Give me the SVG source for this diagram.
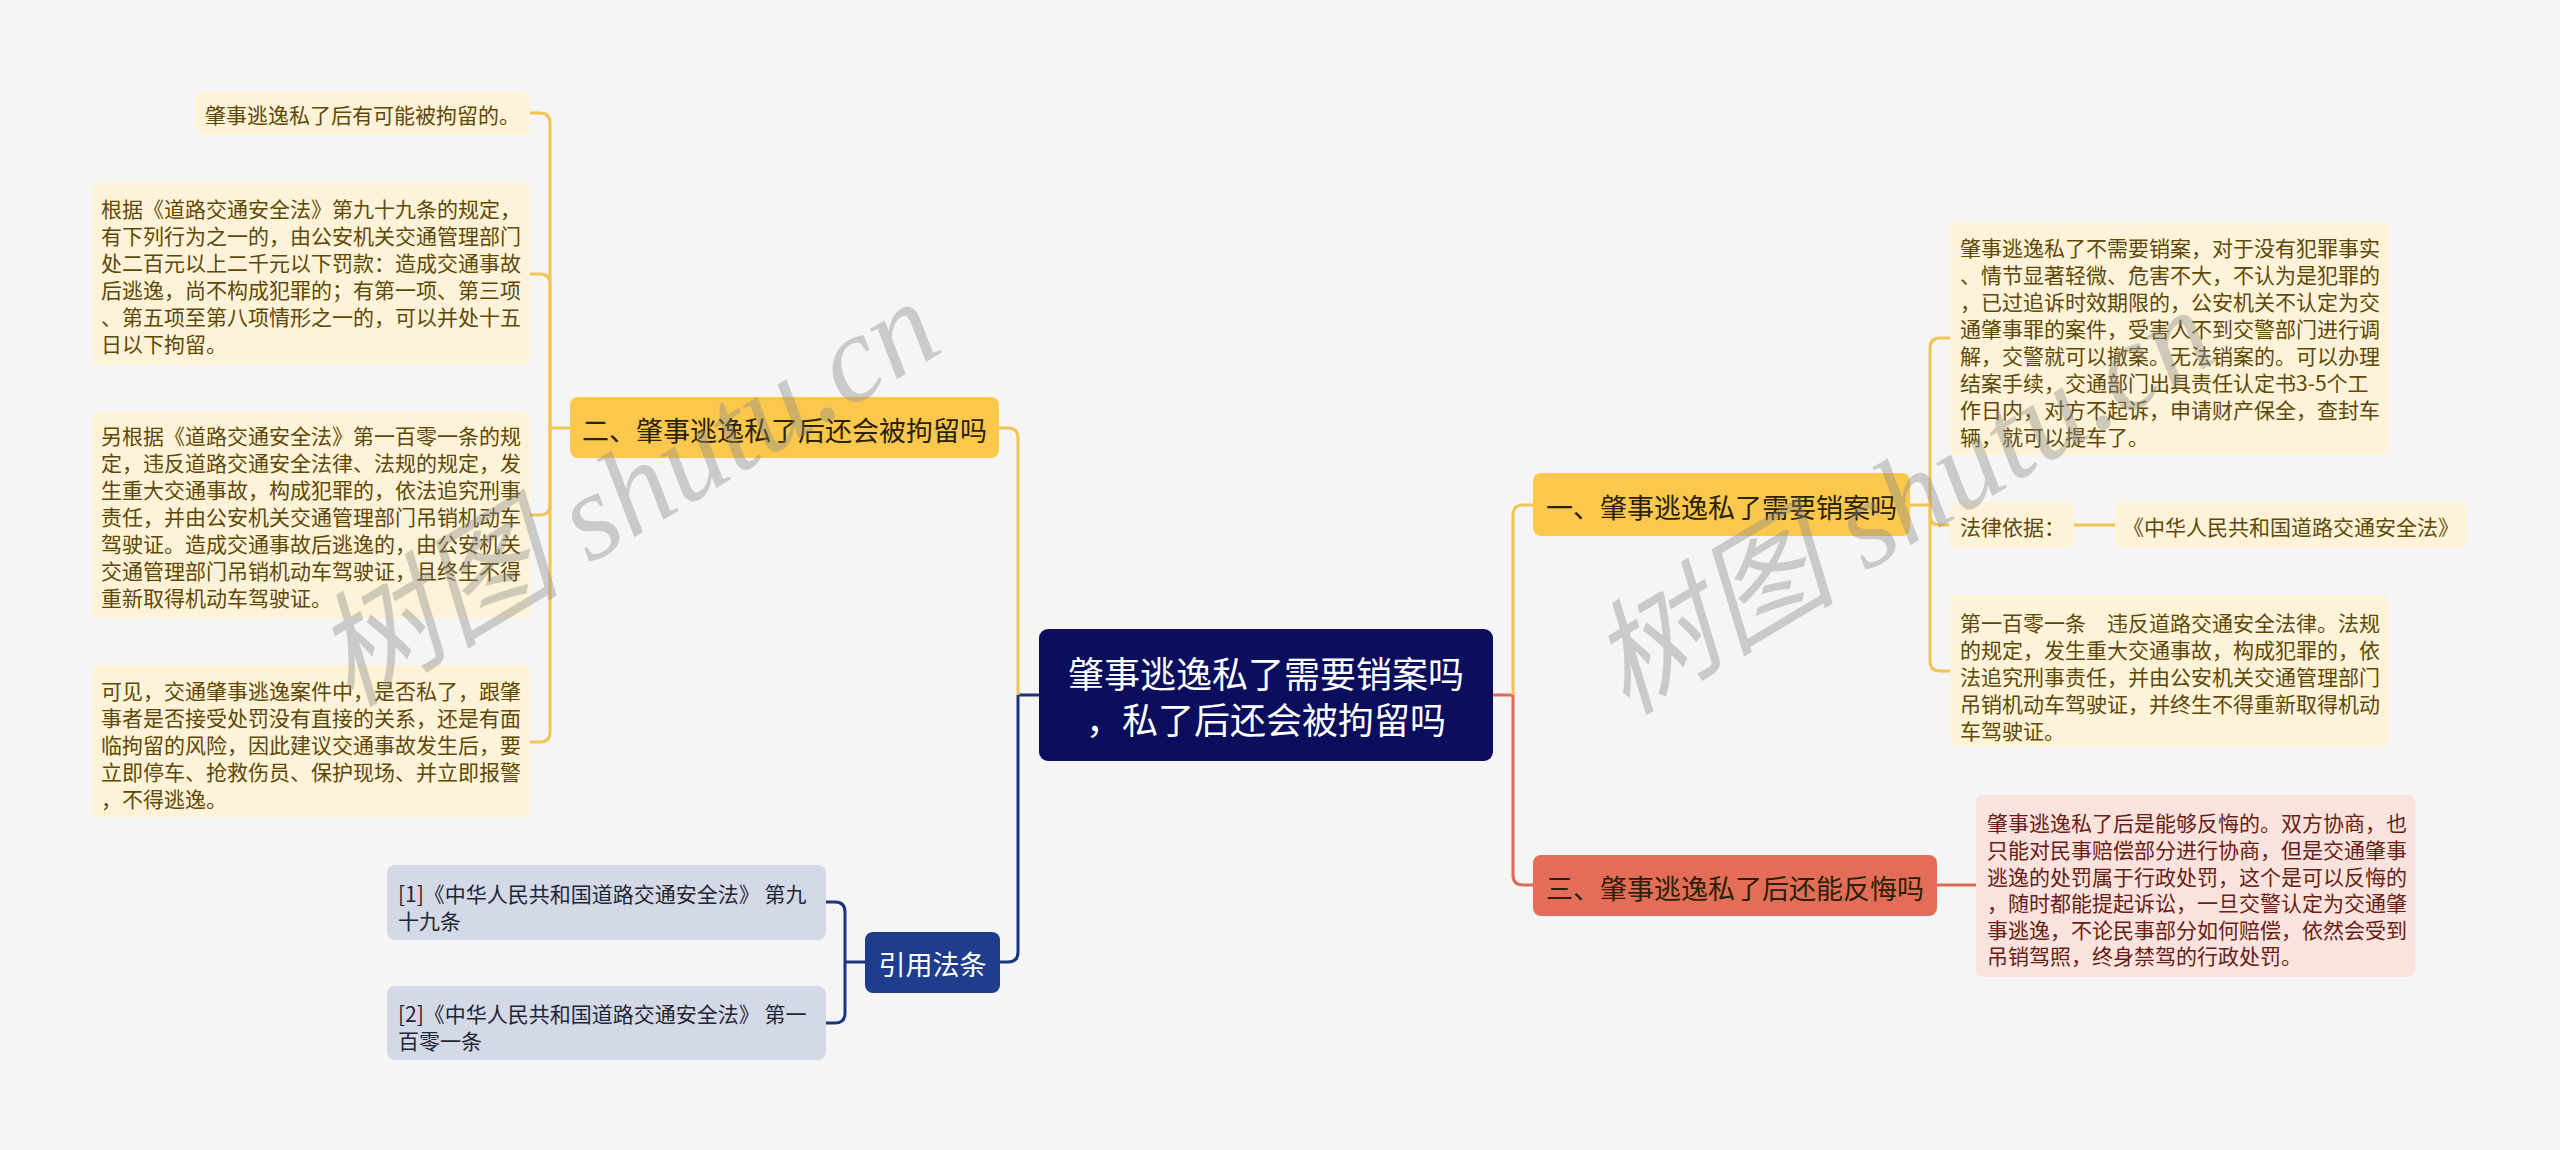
<svg xmlns="http://www.w3.org/2000/svg" width="2560" height="1150" viewBox="0 0 2560 1150">
<style>
text{font-family:"Noto Sans CJK SC","Noto Sans",sans-serif;dominant-baseline:central}
.c{fill:#fef3d8}
.ct{fill:#5f4806;font-size:21px}
.y{fill:#fbc84e}
.yt{fill:#2b2104;font-size:27px}
.ln{fill:none;stroke-width:3}
.ly{stroke:#f2c453}
.lr{stroke:#dc6a55}
.lb{stroke:#1c347e}
.pt{fill:#6a1d12;font-size:21px}
.rt{fill:#1f2533;font-size:21px}
.wm{font-family:"Liberation Serif","Noto Sans CJK SC",serif;font-style:italic;font-size:124px;fill:#8a8a8a;fill-opacity:0.4;dominant-baseline:auto}
</style>
<rect width="2560" height="1150" fill="#f5f5f5"/>
<g id="connectors">
<path class="ln lb" d="M1039,695 H1018"/>
<path class="ln ly" d="M1018,695 V438 Q1018,428 1008,428 H999"/>
<path class="ln lb" d="M1018,695 V952 Q1018,962 1008,962 H1000"/>
<path class="ln lr" d="M1493,695 H1513"/>
<path class="ln ly" d="M1513,695 V515 Q1513,505 1523,505 H1533"/>
<path class="ln lr" d="M1513,695 V875 Q1513,885 1523,885 H1533"/>
<path class="ln ly" d="M570,428 H550"/>
<path class="ln ly" d="M550,428 V123 Q550,113 540,113 H530"/>
<path class="ln ly" d="M550,428 V284 Q550,274 540,274 H530"/>
<path class="ln ly" d="M550,428 V505 Q550,515 540,515 H530"/>
<path class="ln ly" d="M550,428 V732 Q550,742 540,742 H530"/>
<path class="ln ly" d="M1910,505 H1930"/>
<path class="ln ly" d="M1930,505 V348 Q1930,338 1940,338 H1950"/>
<path class="ln ly" d="M1930,505 V515 Q1930,525 1940,525 H1949"/>
<path class="ln ly" d="M1930,505 V661 Q1930,671 1940,671 H1950"/>
<path class="ln ly" d="M2074,525 H2115"/>
<path class="ln lr" d="M1937,885 H1976"/>
<path class="ln lb" d="M865,962 H845"/>
<path class="ln lb" d="M845,962 V912 Q845,902 835,902 H826"/>
<path class="ln lb" d="M845,962 V1013 Q845,1023 835,1023 H826"/>
</g>
<g id="root">
<rect x="1039" y="629" width="454" height="132" rx="9" fill="#0a0e5c"/>
<text x="1266" y="672" font-size="36" fill="#ffffff" text-anchor="middle">肇事逃逸私了需要销案吗</text>
<text x="1266" y="718" font-size="36" fill="#ffffff" text-anchor="middle">，私了后还会被拘留吗</text>
</g>
<g id="b2">
<rect class="y" x="570" y="397" width="429" height="61" rx="8"/>
<text class="yt" x="784.5" y="429" text-anchor="middle">二、肇事逃逸私了后还会被拘留吗</text>
</g>
<g id="b2c1">
<rect class="c" x="195" y="92" width="335" height="43" rx="7"/>
<text class="ct" x="205" y="114">肇事逃逸私了后有可能被拘留的。</text>
</g>
<g id="b2c2">
<rect class="c" x="92" y="183" width="438" height="182" rx="7"/>
<text class="ct" x="101" y="208">根据《道路交通安全法》第九十九条的规定，</text>
<text class="ct" x="101" y="235">有下列行为之一的，由公安机关交通管理部门</text>
<text class="ct" x="101" y="262">处二百元以上二千元以下罚款：造成交通事故</text>
<text class="ct" x="101" y="289">后逃逸，尚不构成犯罪的；有第一项、第三项</text>
<text class="ct" x="101" y="316">、第五项至第八项情形之一的，可以并处十五</text>
<text class="ct" x="101" y="343">日以下拘留。</text>
</g>
<g id="b2c3">
<rect class="c" x="92" y="412" width="438" height="206" rx="7"/>
<text class="ct" x="101" y="435">另根据《道路交通安全法》第一百零一条的规</text>
<text class="ct" x="101" y="462">定，违反道路交通安全法律、法规的规定，发</text>
<text class="ct" x="101" y="489">生重大交通事故，构成犯罪的，依法追究刑事</text>
<text class="ct" x="101" y="516">责任，并由公安机关交通管理部门吊销机动车</text>
<text class="ct" x="101" y="543">驾驶证。造成交通事故后逃逸的，由公安机关</text>
<text class="ct" x="101" y="570">交通管理部门吊销机动车驾驶证，且终生不得</text>
<text class="ct" x="101" y="597">重新取得机动车驾驶证。</text>
</g>
<g id="b2c4">
<rect class="c" x="92" y="665" width="438" height="152" rx="7"/>
<text class="ct" x="101" y="690">可见，交通肇事逃逸案件中，是否私了，跟肇</text>
<text class="ct" x="101" y="717">事者是否接受处罚没有直接的关系，还是有面</text>
<text class="ct" x="101" y="744">临拘留的风险，因此建议交通事故发生后，要</text>
<text class="ct" x="101" y="771">立即停车、抢救伤员、保护现场、并立即报警</text>
<text class="ct" x="101" y="798">，不得逃逸。</text>
</g>
<g id="ref">
<rect x="865" y="932" width="135" height="61" rx="8" fill="#1e3d8c"/>
<text x="932.5" y="963" font-size="27" fill="#ffffff" text-anchor="middle">引用法条</text>
</g>
<g id="ref1">
<rect x="387" y="865" width="439" height="75" rx="8" fill="#d4d9e8"/>
<text class="rt" x="398" y="893">[1]《中华人民共和国道路交通安全法》 第九</text>
<text class="rt" x="398" y="920">十九条</text>
</g>
<g id="ref2">
<rect x="387" y="986" width="439" height="74" rx="8" fill="#d4d9e8"/>
<text class="rt" x="398" y="1013">[2]《中华人民共和国道路交通安全法》 第一</text>
<text class="rt" x="398" y="1040">百零一条</text>
</g>
<g id="b1">
<rect class="y" x="1533" y="473" width="377" height="63" rx="8"/>
<text class="yt" x="1721.5" y="506" text-anchor="middle">一、肇事逃逸私了需要销案吗</text>
</g>
<g id="b1c1">
<rect class="c" x="1950" y="222" width="439" height="233" rx="7"/>
<text class="ct" x="1960" y="247">肇事逃逸私了不需要销案，对于没有犯罪事实</text>
<text class="ct" x="1960" y="274">、情节显著轻微、危害不大，不认为是犯罪的</text>
<text class="ct" x="1960" y="301">，已过追诉时效期限的，公安机关不认定为交</text>
<text class="ct" x="1960" y="328">通肇事罪的案件，受害人不到交警部门进行调</text>
<text class="ct" x="1960" y="355">解，交警就可以撤案。无法销案的。可以办理</text>
<text class="ct" x="1960" y="382">结案手续，交通部门出具责任认定书3-5个工</text>
<text class="ct" x="1960" y="409">作日内，对方不起诉，申请财产保全，查封车</text>
<text class="ct" x="1960" y="436">辆，就可以提车了。</text>
</g>
<g id="b1c2">
<rect class="c" x="1949" y="502" width="125" height="46" rx="7"/>
<text class="ct" x="1960" y="526">法律依据：</text>
</g>
<g id="b1c2a">
<rect class="c" x="2115" y="502" width="352" height="46" rx="7"/>
<text class="ct" x="2291" y="526" text-anchor="middle">《中华人民共和国道路交通安全法》</text>
</g>
<g id="b1c3">
<rect class="c" x="1950" y="595" width="439" height="152" rx="7"/>
<text class="ct" x="1960" y="622">第一百零一条　违反道路交通安全法律。法规</text>
<text class="ct" x="1960" y="649">的规定，发生重大交通事故，构成犯罪的，依</text>
<text class="ct" x="1960" y="676">法追究刑事责任，并由公安机关交通管理部门</text>
<text class="ct" x="1960" y="703">吊销机动车驾驶证，并终生不得重新取得机动</text>
<text class="ct" x="1960" y="730">车驾驶证。</text>
</g>
<g id="b3">
<rect x="1533" y="855" width="404" height="61" rx="8" fill="#e36d58"/>
<text class="yt" x="1735" y="887" text-anchor="middle">三、肇事逃逸私了后还能反悔吗</text>
</g>
<g id="b3c1">
<rect x="1976" y="795" width="439" height="182" rx="7" fill="#fae3df"/>
<text class="pt" x="1987" y="822">肇事逃逸私了后是能够反悔的。双方协商，也</text>
<text class="pt" x="1987" y="849">只能对民事赔偿部分进行协商，但是交通肇事</text>
<text class="pt" x="1987" y="876">逃逸的处罚属于行政处罚，这个是可以反悔的</text>
<text class="pt" x="1987" y="902">，随时都能提起诉讼，一旦交警认定为交通肇</text>
<text class="pt" x="1987" y="929">事逃逸，不论民事部分如何赔偿，依然会受到</text>
<text class="pt" x="1987" y="955">吊销驾照，终身禁驾的行政处罚。</text>
</g>
<g id="watermark">
<text class="wm" x="350" y="708" transform="rotate(-31 350 708)">树图 shutu.cn</text>
<text class="wm" x="1626" y="716" transform="rotate(-31 1626 716)">树图 shutu.cn</text>
</g>
</svg>
